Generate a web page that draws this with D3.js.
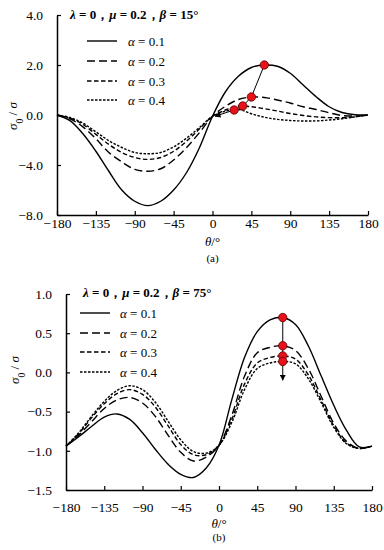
<!DOCTYPE html>
<html>
<head>
<meta charset="utf-8">
<script src="https://cdn.jsdelivr.net/npm/d3@7"></script>
<style>
  body { margin: 0; background: #fff; }
</style>
</head>
<body>
<div id="chart"></div>
<script>
// angle grid (deg) shared by both panels
const theta = [-180, -165, -150, -135, -120, -105, -90, -75, -60, -45, -30, -15, 0,
               15, 30, 45, 60, 75, 90, 105, 120, 135, 150, 165, 180];
const xTicks = [-180, -135, -90, -45, 0, 45, 90, 135, 180];
const alphas = ["0.1", "0.2", "0.3", "0.4"];

// (a) lambda=0, mu=0.2, beta=15deg
const aAlpha01 = [0, -0.45, -1.5, -2.9, -4.5, -6.0, -6.9, -7.25, -6.9, -6.0, -4.6, -2.6, -0.1,
                  0.93, 1.55, 1.9, 2.0, 1.95, 1.67, 1.2, 0.73, 0.33, 0.1, 0.01, 0];
const aAlpha02 = [0, -0.3, -0.95, -1.9, -3.0, -3.75, -4.35, -4.5, -4.3, -3.6, -2.6, -1.4, -0.1,
                  0.35, 0.62, 0.72, 0.7, 0.6, 0.48, 0.33, 0.22, 0.09, -0.04, -0.08, 0];
const aAlpha03 = [0, -0.25, -0.75, -1.55, -2.35, -3.0, -3.4, -3.55, -3.4, -2.9, -2.1, -1.1, -0.1,
                  0.2, 0.36, 0.33, 0.25, 0.16, 0.06, -0.04, -0.15, -0.21, -0.22, -0.14, 0];
const aAlpha04 = [0, -0.2, -0.65, -1.35, -2.05, -2.6, -3.0, -3.1, -3.0, -2.55, -1.85, -1.0, -0.1,
                  0.15, 0.22, 0.05, -0.18, -0.35, -0.44, -0.48, -0.47, -0.4, -0.3, -0.15, 0];
const aPeakTheta = [60, 45, 35, 25];
const aPeakValue = [2.0, 0.72, 0.36, 0.2];
const aArrowEnd = [3, -0.1];
const aYTicks = [4, 2, 0, -4, -8];

// (b) lambda=0, mu=0.2, beta=75deg
const bAlpha01 = [-0.94, -0.82, -0.69, -0.57, -0.53, -0.6, -0.77, -0.98, -1.17, -1.3, -1.34, -1.22, -0.93,
                  -0.35, 0.19, 0.52, 0.67, 0.70, 0.61, 0.34, -0.04, -0.42, -0.74, -0.95, -0.94];
const bAlpha02 = [-0.94, -0.80, -0.63, -0.46, -0.35, -0.32, -0.39, -0.56, -0.80, -1.02, -1.13, -1.08, -0.93,
                  -0.55, -0.05, 0.25, 0.32, 0.34, 0.28, 0.05, -0.3, -0.65, -0.88, -0.97, -0.94];
const bAlpha03 = [-0.94, -0.78, -0.58, -0.40, -0.27, -0.22, -0.28, -0.44, -0.68, -0.92, -1.05, -1.05, -0.93,
                  -0.6, -0.15, 0.12, 0.19, 0.21, 0.17, -0.03, -0.35, -0.68, -0.9, -0.97, -0.94];
const bAlpha04 = [-0.94, -0.77, -0.56, -0.37, -0.23, -0.17, -0.22, -0.38, -0.62, -0.86, -1.01, -1.03, -0.93,
                  -0.64, -0.22, 0.05, 0.12, 0.14, 0.11, -0.08, -0.38, -0.7, -0.91, -0.97, -0.94];
const bPeakTheta = [75, 75, 75, 75];
const bPeakValue = [0.70, 0.34, 0.21, 0.14];
const bArrowEnd = [75, -0.1];
const bYTicks = [1.0, 0.5, 0.0, -0.5, -1.0, -1.5];

const dashes = [null, "8,4", "4.5,2.5", "2.5,1.5"];
const serif = "'Liberation Serif', 'Times New Roman', serif";

const svg = d3.select("#chart").append("svg")
    .attr("width", 384)
    .attr("height", 550)
    .attr("font-family", serif)
    .style("display", "block");

svg.append("defs").append("marker")
    .attr("id", "arrow")
    .attr("viewBox", "0 0 10 10")
    .attr("refX", 9).attr("refY", 5)
    .attr("markerWidth", 6).attr("markerHeight", 6)
    .attr("markerUnits", "userSpaceOnUse")
    .attr("orient", "auto")
    .append("path")
    .attr("d", "M0,0L10,5L0,10z")
    .attr("fill", "#000");

// text with italic greek pieces: parts = [[str, italic, shift], ...]
function richText(sel, parts) {
    parts.forEach(function (p) {
        sel.append("tspan")
            .attr("font-style", p[1] ? "italic" : null)
            .attr("baseline-shift", p[2] || null)
            .attr("font-size", p[2] ? "0.75em" : null)
            .text(p[0]);
    });
    return sel;
}

function drawPanel(p) {
    const x = d3.scaleLinear().domain([-180, 180]).range([p.left, p.right]);
    const y = d3.scaleLinear().domain(p.yDomain).range(p.yRange);
    const g = svg.append("g");

    const xAxis = g.append("g")
        .attr("transform", "translate(0," + p.bottom + ")")
        .call(d3.axisBottom(x).tickValues(xTicks).tickFormat(d3.format("d"))
            .tickSizeInner(-4).tickSizeOuter(0).tickPadding(p.xPad));
    const yAxis = g.append("g")
        .attr("transform", "translate(" + p.left + ",0)")
        .call(d3.axisLeft(y).tickValues(p.yTicks).tickFormat(d3.format(".1f"))
            .tickSizeInner(-4).tickSizeOuter(0).tickPadding(14));
    [xAxis, yAxis].forEach(function (ax) {
        ax.attr("font-family", serif).attr("font-size", 13.5);
        ax.select(".domain").attr("stroke-width", 1.5);
        ax.selectAll(".tick line").attr("stroke-width", 1.2);
    });

    const line = d3.line()
        .x(function (d, i) { return x(theta[i]); })
        .y(function (d) { return y(d); })
        .curve(d3.curveCatmullRom);

    g.selectAll("path.curve")
        .data(p.series)
        .enter().append("path")
        .attr("class", "curve")
        .attr("d", line)
        .attr("fill", "none")
        .attr("stroke", "#000")
        .attr("stroke-width", 1.4)
        .attr("stroke-dasharray", function (d, i) { return dashes[i]; });

    // path linking the peaks, ending in an arrow
    const pts = p.peakTheta.map(function (t, i) { return [x(t), y(p.peakValue[i])]; });
    pts.push([x(p.arrowEnd[0]), y(p.arrowEnd[1])]);
    g.append("path")
        .attr("d", d3.line()(pts))
        .attr("fill", "none")
        .attr("stroke", "#000")
        .attr("stroke-width", 1)
        .attr("marker-end", "url(#arrow)");

    g.selectAll("circle.peak")
        .data(p.peakTheta)
        .enter().append("circle")
        .attr("class", "peak")
        .attr("cx", function (d) { return x(d); })
        .attr("cy", function (d, i) { return y(p.peakValue[i]); })
        .attr("r", 4.2)
        .attr("fill", "#e8121a")
        .attr("stroke", "#5a0000")
        .attr("stroke-width", 0.8);

    // title
    richText(g.append("text")
        .attr("x", p.titleX).attr("y", p.titleY).attr("dy", "0.35em")
        .attr("font-weight", "bold").attr("font-size", 13),
        [["λ", true], [" = 0，", false], ["μ", true], [" = 0.2，", false], ["β", true], [" = " + p.beta + "°", false]]);

    // legend
    const leg = g.selectAll("g.leg")
        .data(alphas)
        .enter().append("g")
        .attr("class", "leg")
        .attr("transform", function (d, i) { return "translate(0," + p.legY[i] + ")"; });
    leg.append("line")
        .attr("x1", p.legX0).attr("x2", p.legX1)
        .attr("stroke", "#000").attr("stroke-width", 1.4)
        .attr("stroke-dasharray", function (d, i) { return dashes[i]; });
    leg.append("text")
        .attr("x", p.legTx).attr("dy", "0.35em")
        .attr("font-size", 13)
        .each(function (d) {
            richText(d3.select(this), [["α", true], [" = " + d, false]]);
        });

    // axis titles
    richText(g.append("text")
        .attr("transform", "translate(" + p.yLabX + "," + p.yLabY + ") rotate(-90)")
        .attr("text-anchor", "middle").attr("dy", "0.35em").attr("font-size", 13),
        [["σ", true], ["0", false, "sub"], [" / ", false], ["σ", true]]);
    richText(g.append("text")
        .attr("x", (p.left + p.right) / 2).attr("y", p.xLabY).attr("dy", "0.35em")
        .attr("text-anchor", "middle").attr("font-size", 13),
        [["θ", true], ["/°", false]]);
    g.append("text")
        .attr("x", (p.left + p.right) / 2).attr("y", p.capY).attr("dy", "0.35em")
        .attr("text-anchor", "middle").attr("font-size", 11)
        .text(p.caption);
}

drawPanel({
    left: 57, right: 368, bottom: 215,
    yDomain: [-8, 0, 4], yRange: [215, 115, 15], yTicks: aYTicks, xPad: 3,
    series: [aAlpha01, aAlpha02, aAlpha03, aAlpha04],
    peakTheta: aPeakTheta, peakValue: aPeakValue, arrowEnd: aArrowEnd,
    beta: 15, titleX: 70, titleY: 14,
    legX0: 87, legX1: 117, legTx: 128, legY: [41, 61, 81, 100],
    yLabX: 12, yLabY: 116, xLabY: 241, capY: 258, caption: "(a)"
});

drawPanel({
    left: 66, right: 372, bottom: 490,
    yDomain: [-1.5, 1.0], yRange: [490, 294], yTicks: bYTicks, xPad: 12,
    series: [bAlpha01, bAlpha02, bAlpha03, bAlpha04],
    peakTheta: bPeakTheta, peakValue: bPeakValue, arrowEnd: bArrowEnd,
    beta: 75, titleX: 83, titleY: 292,
    legX0: 80, legX1: 110, legTx: 120, legY: [313, 333, 352, 372],
    yLabX: 14, yLabY: 370, xLabY: 523, capY: 537, caption: "(b)"
});
</script>
</body>
</html>
